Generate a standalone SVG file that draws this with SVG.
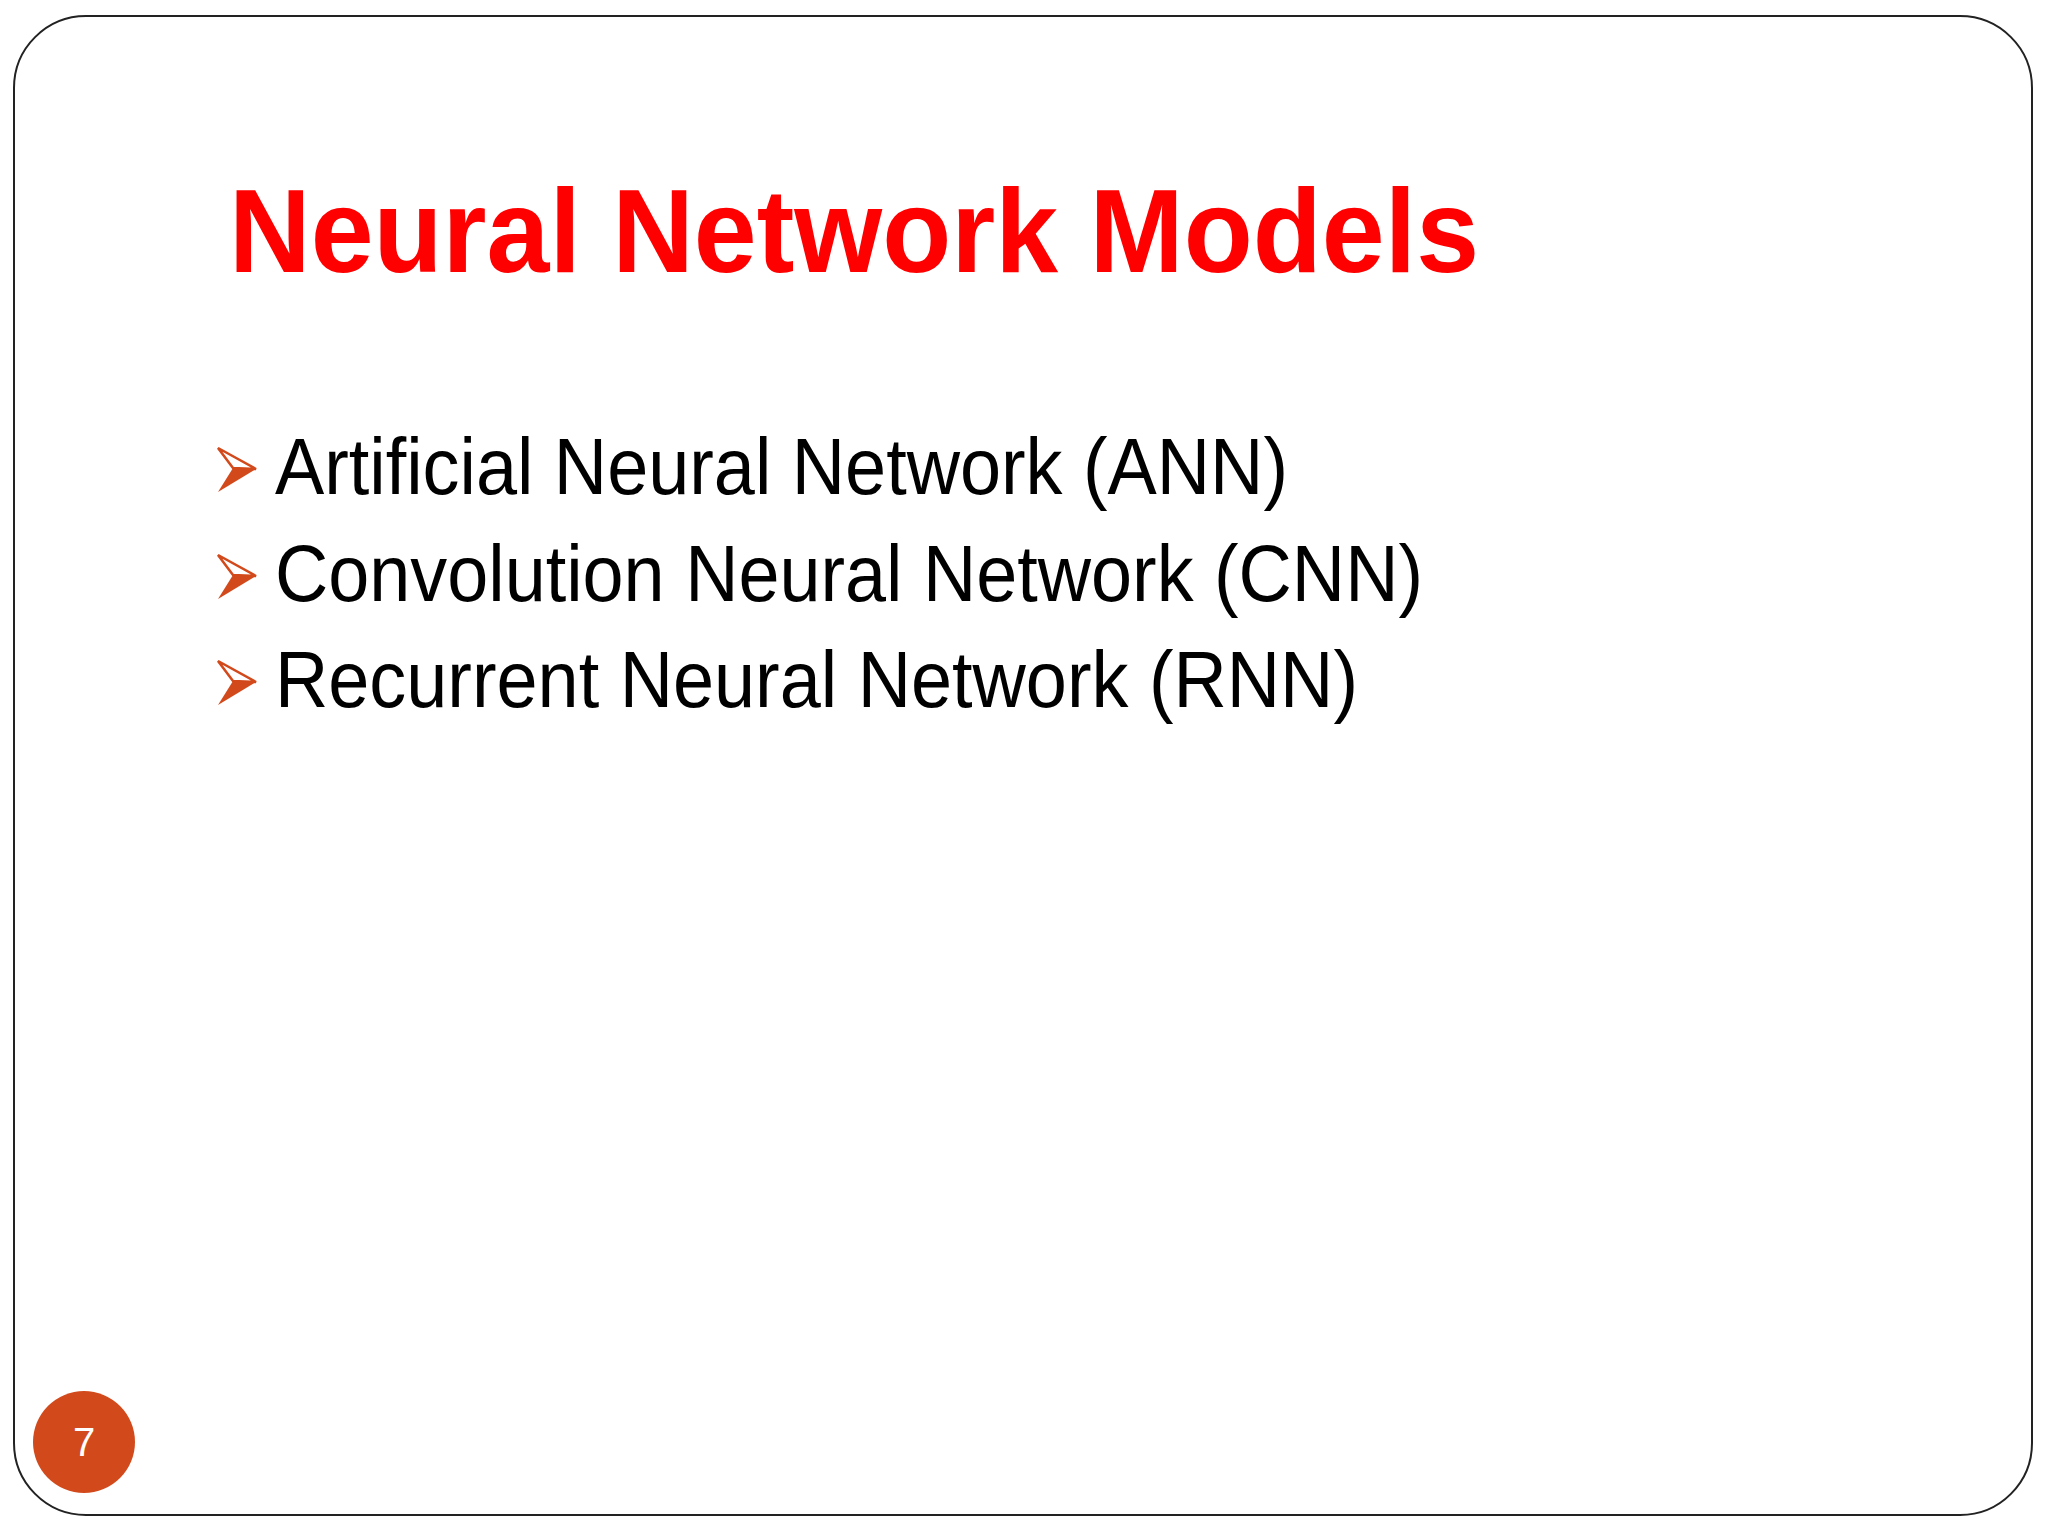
<svg xmlns="http://www.w3.org/2000/svg" width="2048" height="1536" viewBox="0 0 2048 1536">
<style>
.b{font-family:"Liberation Sans",Arial,sans-serif;font-size:80px;fill:#000}
.up{fill:#fff;stroke:#D24A1B;stroke-width:2.5}
.lo{fill:#D24A1B}
</style>
<defs>
<g id="arrow">
<path class="up" d="M0,-21 L38,0 L15,-1 Z"/>
<path class="lo" d="M0,23 L38,0 L15,-1 Z"/>
</g>
</defs>
<rect width="2048" height="1536" fill="#fff"/>
<rect x="14" y="16" width="2018" height="1499" rx="72" fill="none" stroke="#222" stroke-width="2"/>
<g id="title"><text x="229" y="272" font-family="'Liberation Sans',Arial,sans-serif" font-weight="bold" font-size="118" fill="#FF0000" textLength="1250" lengthAdjust="spacingAndGlyphs">Neural Network Models</text></g>
<g id="item1"><use href="#arrow" x="218" y="469"/><text class="b" x="275" y="494" textLength="1013" lengthAdjust="spacingAndGlyphs">Artificial Neural Network (ANN)</text></g>
<g id="item2"><use href="#arrow" x="218" y="576"/><text class="b" x="275" y="601" textLength="1148" lengthAdjust="spacingAndGlyphs">Convolution Neural Network (CNN)</text></g>
<g id="item3"><use href="#arrow" x="218" y="682"/><text class="b" x="275" y="707" textLength="1083" lengthAdjust="spacingAndGlyphs">Recurrent Neural Network (RNN)</text></g>
<g id="page"><circle cx="84" cy="1442" r="51" fill="#D24A1B"/><text x="84" y="1456" text-anchor="middle" font-family="'Liberation Sans',Arial,sans-serif" font-size="40" fill="#fff">7</text></g>
</svg>
